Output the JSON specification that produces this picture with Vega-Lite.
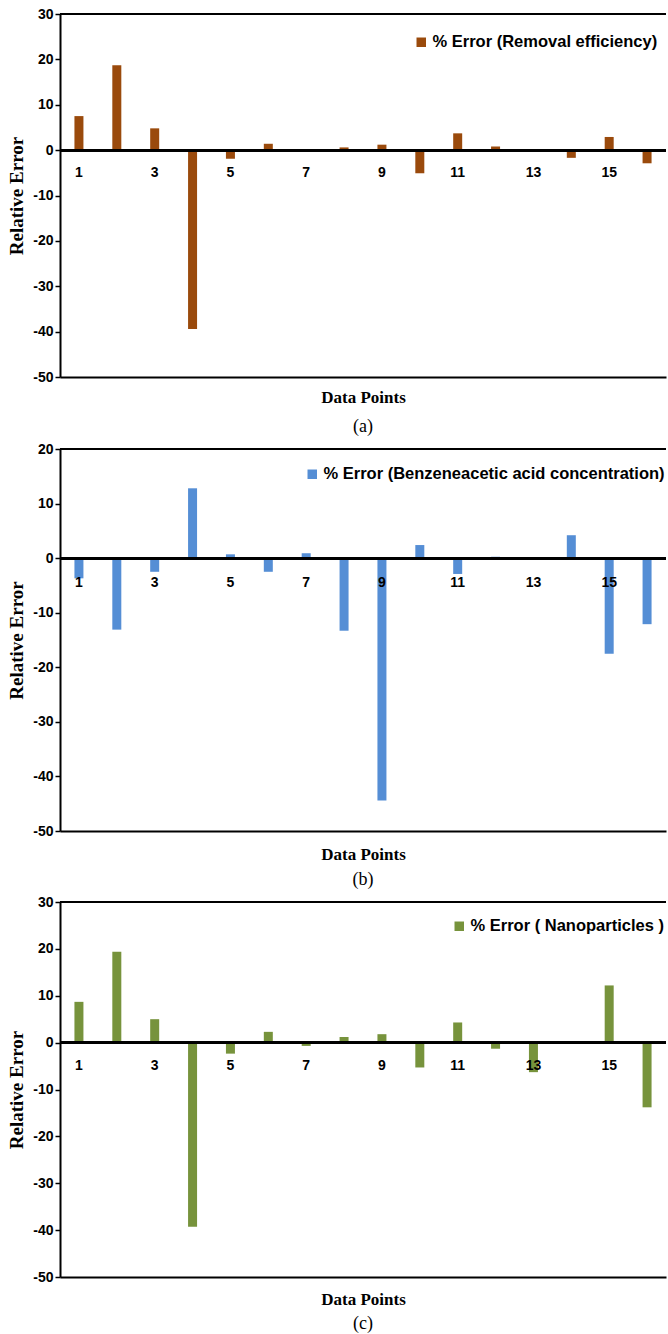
{
  "$schema": "https://vega.github.io/schema/vega-lite/v6.json",
  "padding": {"top": 7, "left": 7, "right": 0, "bottom": 0},
  "background": "white",
  "config": {
    "view": {"stroke": null},
    "axis": {"grid": false, "domainColor": "black", "domainWidth": 2, "tickColor": "black", "tickWidth": 1.5, "labelColor": "black", "titleColor": "black"},
    "axisY": {"labelFont": "Liberation Sans", "labelFontWeight": "bold", "labelFontSize": 14, "tickSize": 5, "labelPadding": 2, "titleFont": "Liberation Serif", "titleFontWeight": "bold", "titleFontSize": 19, "titlePadding": 6, "labelExpr": "replace(datum.label, '\u2212', '-')"},
    "axisX": {"labels": false, "ticks": false, "titleFont": "Liberation Serif", "titleFontWeight": "bold", "titleFontSize": 17, "titlePadding": 12},
    "title": {"font": "Liberation Serif", "fontWeight": "normal", "fontSize": 18, "color": "black", "orient": "bottom", "anchor": "middle"},
    "legend": {"labelFont": "Liberation Sans", "labelFontWeight": "bold", "labelFontSize": 16.5, "labelColor": "black", "labelLimit": 0, "symbolType": "square", "symbolSize": 90, "symbolStrokeWidth": 0, "padding": 0, "labelOffset": 3, "orient": "none"}
  },
  "datasets": {
    "a": [
      {"point": 1, "value": 7.5}, {"point": 2, "value": 18.7}, {"point": 3, "value": 4.8}, {"point": 4, "value": -39.4},
      {"point": 5, "value": -1.9}, {"point": 6, "value": 1.4}, {"point": 7, "value": -0.2}, {"point": 8, "value": 0.6},
      {"point": 9, "value": 1.2}, {"point": 10, "value": -5.1}, {"point": 11, "value": 3.7}, {"point": 12, "value": 0.8},
      {"point": 13, "value": -0.2}, {"point": 14, "value": -1.7}, {"point": 15, "value": 2.9}, {"point": 16, "value": -2.9}
    ],
    "b": [
      {"point": 1, "value": -3.7}, {"point": 2, "value": -13.1}, {"point": 3, "value": -2.5}, {"point": 4, "value": 12.8},
      {"point": 5, "value": 0.7}, {"point": 6, "value": -2.5}, {"point": 7, "value": 0.9}, {"point": 8, "value": -13.3},
      {"point": 9, "value": -44.4}, {"point": 10, "value": 2.4}, {"point": 11, "value": -2.9}, {"point": 12, "value": 0.25},
      {"point": 13, "value": 0.05}, {"point": 14, "value": 4.2}, {"point": 15, "value": -17.5}, {"point": 16, "value": -12.1}
    ],
    "c": [
      {"point": 1, "value": 8.7}, {"point": 2, "value": 19.4}, {"point": 3, "value": 5.0}, {"point": 4, "value": -39.3},
      {"point": 5, "value": -2.35}, {"point": 6, "value": 2.3}, {"point": 7, "value": -0.7}, {"point": 8, "value": 1.2},
      {"point": 9, "value": 1.8}, {"point": 10, "value": -5.3}, {"point": 11, "value": 4.3}, {"point": 12, "value": -1.3},
      {"point": 13, "value": -6.3}, {"point": 14, "value": 0.1}, {"point": 15, "value": 12.2}, {"point": 16, "value": -13.8}
    ]
  },
  "resolve": {"scale": {"color": "independent"}, "legend": {"color": "independent"}},
  "spacing": 6,
  "vconcat": [
    {
      "width": 606, "height": 363,
      "title": {"text": "(a)", "offset": 13},
      "data": {"name": "a"},
      "layer": [
        {
          "mark": {"type": "bar", "width": 9},
          "encoding": {
            "x": {"field": "point", "type": "ordinal", "title": "Data Points", "scale": {"paddingInner": 0, "paddingOuter": 0}},
            "y": {"field": "value", "type": "quantitative", "title": "Relative Error", "scale": {"domain": [-50, 30], "nice": false, "zero": false}, "axis": {"values": [30, 20, 10, 0, -10, -20, -30, -40, -50]}},
            "color": {"datum": "% Error (Removal efficiency)", "scale": {"range": ["#9a4a0c"]}, "legend": {"title": null, "legendX": 353, "legendY": 20}}
          }
        },
        {"mark": {"type": "rule", "color": "black", "strokeWidth": 2}, "encoding": {"y": {"datum": 0}}},
        {"mark": {"type": "rule", "color": "black", "strokeWidth": 2}, "encoding": {"y": {"datum": 30}}},
        {
          "transform": [{"filter": "datum.point % 2 == 1"}],
          "mark": {"type": "text", "font": "Liberation Sans", "fontWeight": "bold", "fontSize": 14, "color": "black", "baseline": "middle", "dy": 23},
          "encoding": {"x": {"field": "point", "type": "ordinal"}, "y": {"datum": 0}, "text": {"field": "point"}}
        }
      ]
    },
    {
      "width": 606, "height": 382,
      "title": {"text": "(b)", "offset": 9},
      "data": {"name": "b"},
      "layer": [
        {
          "mark": {"type": "bar", "width": 9},
          "encoding": {
            "x": {"field": "point", "type": "ordinal", "title": "Data Points", "scale": {"paddingInner": 0, "paddingOuter": 0}, "axis": {"titlePadding": 15}},
            "y": {"field": "value", "type": "quantitative", "title": "Relative Error", "scale": {"domain": [-50, 20], "nice": false, "zero": false}, "axis": {"values": [20, 10, 0, -10, -20, -30, -40, -50]}},
            "color": {"datum": "% Error (Benzeneacetic acid concentration)", "scale": {"range": ["#558ed5"]}, "legend": {"title": null, "legendX": 244, "legendY": 17}}
          }
        },
        {"mark": {"type": "rule", "color": "black", "strokeWidth": 2}, "encoding": {"y": {"datum": 0}}},
        {"mark": {"type": "rule", "color": "black", "strokeWidth": 2}, "encoding": {"y": {"datum": 20}}},
        {
          "transform": [{"filter": "datum.point % 2 == 1"}],
          "mark": {"type": "text", "font": "Liberation Sans", "fontWeight": "bold", "fontSize": 14, "color": "black", "baseline": "middle", "dy": 25},
          "encoding": {"x": {"field": "point", "type": "ordinal"}, "y": {"datum": 0}, "text": {"field": "point"}}
        }
      ]
    },
    {
      "width": 606, "height": 375,
      "title": {"text": "(c)", "offset": 8},
      "data": {"name": "c"},
      "layer": [
        {
          "mark": {"type": "bar", "width": 9},
          "encoding": {
            "x": {"field": "point", "type": "ordinal", "title": "Data Points", "scale": {"paddingInner": 0, "paddingOuter": 0}, "axis": {"titlePadding": 14}},
            "y": {"field": "value", "type": "quantitative", "title": "Relative Error", "scale": {"domain": [-50, 30], "nice": false, "zero": false}, "axis": {"values": [30, 20, 10, 0, -10, -20, -30, -40, -50]}},
            "color": {"datum": "% Error ( Nanoparticles )", "scale": {"range": ["#77933c"]}, "legend": {"title": null, "legendX": 391, "legendY": 16}}
          }
        },
        {"mark": {"type": "rule", "color": "black", "strokeWidth": 2}, "encoding": {"y": {"datum": 0}}},
        {"mark": {"type": "rule", "color": "black", "strokeWidth": 2}, "encoding": {"y": {"datum": 30}}},
        {
          "transform": [{"filter": "datum.point % 2 == 1"}],
          "mark": {"type": "text", "font": "Liberation Sans", "fontWeight": "bold", "fontSize": 14, "color": "black", "baseline": "middle", "dy": 23},
          "encoding": {"x": {"field": "point", "type": "ordinal"}, "y": {"datum": 0}, "text": {"field": "point"}}
        }
      ]
    }
  ]
}
